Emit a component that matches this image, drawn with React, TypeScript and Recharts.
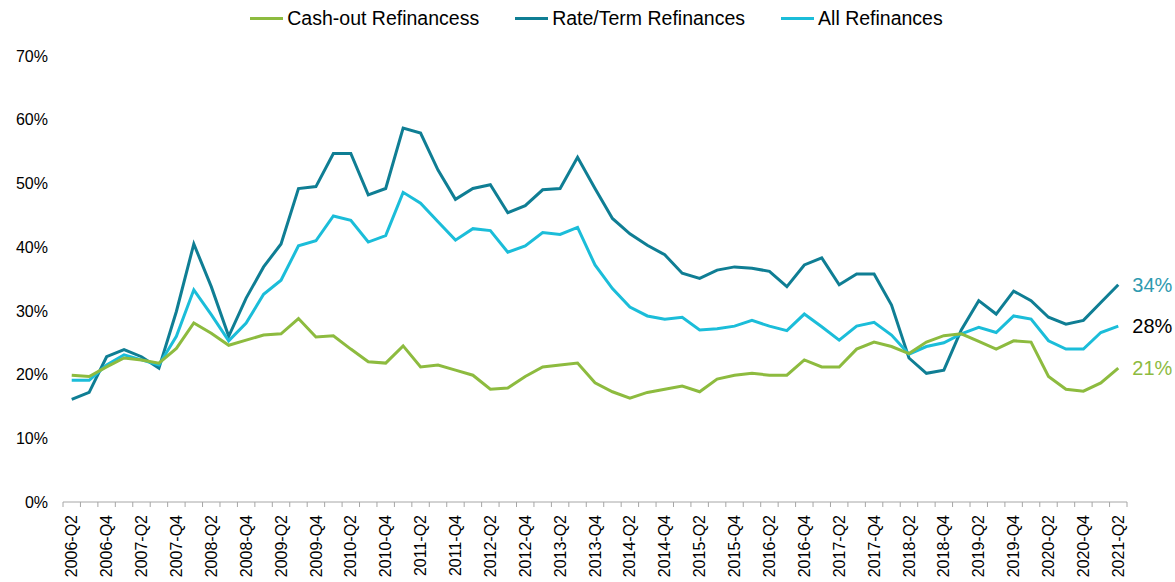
import React from 'react';
import { LineChart, Line, XAxis, YAxis, Legend, LabelList } from 'recharts';

const quarters = [
  '2006-Q2','2006-Q3','2006-Q4','2007-Q1','2007-Q2','2007-Q3','2007-Q4','2008-Q1','2008-Q2','2008-Q3','2008-Q4',
  '2009-Q1','2009-Q2','2009-Q3','2009-Q4','2010-Q1','2010-Q2','2010-Q3','2010-Q4','2011-Q1','2011-Q2','2011-Q3','2011-Q4',
  '2012-Q1','2012-Q2','2012-Q3','2012-Q4','2013-Q1','2013-Q2','2013-Q3','2013-Q4','2014-Q1','2014-Q2','2014-Q3','2014-Q4',
  '2015-Q1','2015-Q2','2015-Q3','2015-Q4','2016-Q1','2016-Q2','2016-Q3','2016-Q4','2017-Q1','2017-Q2','2017-Q3','2017-Q4',
  '2018-Q1','2018-Q2','2018-Q3','2018-Q4','2019-Q1','2019-Q2','2019-Q3','2019-Q4','2020-Q1','2020-Q2','2020-Q3','2020-Q4',
  '2021-Q1','2021-Q2',
];

const cashOut = [
  19.9, 19.7, 21.2, 22.6, 22.3, 21.8, 24.1, 28.1, 26.5, 24.6, 25.4, 26.2, 26.4, 28.8, 25.9, 26.1,
  24.0, 22.0, 21.8, 24.5, 21.2, 21.5, 20.7, 19.9, 17.7, 17.9, 19.7, 21.2, 21.5, 21.8, 18.7, 17.3,
  16.3, 17.2, 17.7, 18.2, 17.3, 19.3, 19.9, 20.2, 19.9, 19.9, 22.3, 21.2, 21.2, 24.0, 25.1, 24.4,
  23.3, 25.1, 26.1, 26.4, 25.2, 24.0, 25.3, 25.1, 19.7, 17.7, 17.4, 18.7, 21.0,
];

const rateTerm = [
  16.1, 17.2, 22.8, 23.9, 22.8, 21.0, 29.9, 40.5, 33.8, 26.0, 32.0, 36.9, 40.5, 49.2, 49.5, 54.7,
  54.7, 48.2, 49.2, 58.7, 57.9, 52.1, 47.5, 49.2, 49.8, 45.4, 46.5, 49.0, 49.2, 54.1, 49.2, 44.5,
  42.1, 40.3, 38.8, 35.9, 35.1, 36.4, 36.9, 36.7, 36.2, 33.8, 37.2, 38.3, 34.1, 35.8, 35.8, 30.9,
  22.6, 20.2, 20.7, 27.0, 31.6, 29.5, 33.1, 31.6, 29.0, 27.9, 28.5, 31.3, 34.1,
];

const allRefi = [
  19.1, 19.1, 21.5, 23.1, 22.3, 21.5, 26.0, 33.3, 29.4, 25.3, 28.1, 32.6, 34.8, 40.2, 41.0, 44.9,
  44.2, 40.8, 41.8, 48.6, 46.9, 44.0, 41.1, 42.9, 42.6, 39.2, 40.2, 42.3, 42.0, 43.1, 37.2, 33.5,
  30.6, 29.2, 28.7, 29.0, 27.0, 27.2, 27.6, 28.5, 27.6, 26.9, 29.5, 27.5, 25.4, 27.6, 28.2, 26.2,
  23.2, 24.4, 25.0, 26.4, 27.4, 26.6, 29.2, 28.7, 25.3, 24.0, 24.0, 26.6, 27.6,
];

const yTicks = [0, 10, 20, 30, 40, 50, 60, 70];

const seriesNames = ['Cash-out Refinancess', 'Rate/Term Refinances', 'All Refinances'];
const colors = { cash: '#8DBB3F', rate: '#0F7E94', all: '#1BBDD9' };
const endLabelColors = { cash: '#8DBB3F', rate: '#2E9AB0', all: '#000000' };

const data = quarters.map((q, i) => ({
  q,
  cash: cashOut[i],
  rate: rateTerm[i],
  all: allRefi[i],
}));

const FONT = "Arial, 'Liberation Sans', sans-serif";
const W = 1175;
const H = 582;
const PLOT_LEFT = 63;
const PLOT_RIGHT = 1127;
const BW = (PLOT_RIGHT - PLOT_LEFT) / quarters.length;
const AXIS_COLOR = '#A6A6A6';

const XTick = (props: any) => {
  const { x, y, payload, index } = props;
  const i = typeof index === 'number' ? index : payload.index;
  const left = x - BW / 2;
  const right = x + BW / 2;
  const showLabel = i % 2 === 0;
  const ly = y + 13;
  return (
    <g>
      <line x1={left} y1={y} x2={left} y2={y + 5} stroke={AXIS_COLOR} strokeWidth={1} />
      {i === quarters.length - 1 && (
        <line x1={right} y1={y} x2={right} y2={y + 5} stroke={AXIS_COLOR} strokeWidth={1} />
      )}
      {showLabel && (
        <text
          x={x}
          y={ly}
          dy="0.35em"
          textAnchor="end"
          transform={`rotate(-90, ${x}, ${ly})`}
          fontSize={16}
          fontFamily={FONT}
          fill="#000"
        >
          {payload.value}
        </text>
      )}
    </g>
  );
};

const makeEndLabel = (color: string) => (props: any) => {
  const { x, y, index, value } = props;
  if (index !== quarters.length - 1) return null;
  return (
    <text x={x + 14} y={y} dy="0.35em" fontSize={20} fontFamily={FONT} fill={color}>
      {`${Math.round(Number(value))}%`}
    </text>
  );
};

const LegendContent = () => {
  const items = [
    { name: seriesNames[0], color: colors.cash },
    { name: seriesNames[1], color: colors.rate },
    { name: seriesNames[2], color: colors.all },
  ];
  return (
    <div
      style={{
        width: W,
        height: 36,
        display: 'flex',
        justifyContent: 'center',
        alignItems: 'center',
        gap: 36,
        fontFamily: FONT,
        fontSize: 19.5,
        color: '#000',
        paddingLeft: 18,
        boxSizing: 'border-box',
      }}
    >
      {items.map((it) => (
        <div key={it.name} style={{ display: 'flex', alignItems: 'center' }}>
          <div style={{ width: 33, height: 3, background: it.color, marginRight: 4 }} />
          <span>{it.name}</span>
        </div>
      ))}
    </div>
  );
};

export default function App() {
  return (
    <div style={{ position: 'absolute', left: 0, top: 0, width: W, height: H, background: '#fff' }}>
      <LineChart
        width={W}
        height={H}
        data={data}
        margin={{ top: 20, right: W - PLOT_RIGHT, bottom: 0, left: 0 }}
      >
        <Legend
          verticalAlign="top"
          align="center"
          content={<LegendContent />}
          wrapperStyle={{ top: 0, left: 0, width: W, height: 36 }}
        />
        <XAxis
          dataKey="q"
          scale="band"
          interval={0}
          height={80}
          tickSize={0}
          tickMargin={0}
          tickLine={false}
          axisLine={{ stroke: AXIS_COLOR, strokeWidth: 1 }}
          tick={<XTick />}
        />
        <YAxis
          width={PLOT_LEFT}
          domain={[0, 70]}
          ticks={yTicks}
          interval={0}
          axisLine={false}
          tickLine={false}
          tickSize={6}
          tickMargin={9}
          tick={{ fontSize: 16, fontFamily: FONT, fill: '#000' }}
          tickFormatter={(v: number) => `${v}%`}
        />
        <Line
          type="linear"
          dataKey="rate"
          name={seriesNames[1]}
          stroke={colors.rate}
          strokeWidth={3}
          dot={false}
          isAnimationActive={false}
        >
          <LabelList dataKey="rate" content={makeEndLabel(endLabelColors.rate)} />
        </Line>
        <Line
          type="linear"
          dataKey="all"
          name={seriesNames[2]}
          stroke={colors.all}
          strokeWidth={3}
          dot={false}
          isAnimationActive={false}
        >
          <LabelList dataKey="all" content={makeEndLabel(endLabelColors.all)} />
        </Line>
        <Line
          type="linear"
          dataKey="cash"
          name={seriesNames[0]}
          stroke={colors.cash}
          strokeWidth={3}
          dot={false}
          isAnimationActive={false}
        >
          <LabelList dataKey="cash" content={makeEndLabel(endLabelColors.cash)} />
        </Line>
      </LineChart>
    </div>
  );
}
